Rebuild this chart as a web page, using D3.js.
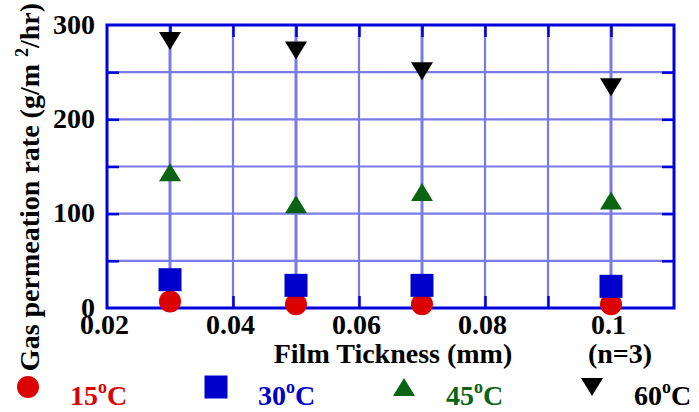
<!DOCTYPE html>
<html>
<head>
<meta charset="utf-8">
<script src="https://cdn.jsdelivr.net/npm/d3@7"></script>
<style>
  body { margin: 0; background: #fff; }
  svg text { font-family: "Liberation Serif", "Times New Roman", serif; font-weight: bold; }
</style>
</head>
<body>
<svg id="chart" width="699" height="412"></svg>
<script>
// film thickness (mm)
var thickness = [0.03, 0.05, 0.07, 0.10];

// gas permeation rate (g/m2/hr), one array per temperature
var rate15 = [7, 4, 4, 4];
var rate30 = [30, 24, 24, 23];
var rate45 = [144, 110, 123, 114];
var rate60 = [283, 273, 251, 234];

var seriesNames = ["15", "30", "45", "60"];
var seriesColors = ["#dd0000", "#0000cc", "#0a6414", "#000000"];
var seriesShapes = ["circle", "square", "up", "down"];

var xTickValues = [0.02, 0.04, 0.06, 0.08, 0.10];
var xTickLabels = ["0.02", "0.04", "0.06", "0.08", "0.1"];
var xMinorValues = [0.03, 0.04, 0.05, 0.06, 0.07, 0.08, 0.09, 0.10];
var yTickValues = [0, 100, 200, 300];
var yMinorValues = [50, 100, 150, 200, 250];

var allRates = [rate15, rate30, rate45, rate60];

// note: "top" is taken by window.top, so prefix these
var plotLeft = 107, plotTop = 25, plotRight = 674, plotBottom = 308;
var frameColor = "#0000dd";
var gridColor = "#7a7ae8";

var svg = d3.select("#chart");

var x = d3.scaleLinear().domain([0.02, 0.11]).range([plotLeft, plotRight]);
var y = d3.scaleLinear().domain([0, 300]).range([plotBottom, plotTop]);

// grid
svg.append("g").selectAll("line")
    .data(xMinorValues)
    .enter().append("line")
        .attr("x1", function(d) { return x(d); })
        .attr("x2", function(d) { return x(d); })
        .attr("y1", plotTop)
        .attr("y2", plotBottom)
        .attr("stroke", gridColor)
        .attr("stroke-width", function(d) { return thickness.indexOf(d) >= 0 ? 3 : 2.2; });

svg.append("g").selectAll("line")
    .data(yMinorValues)
    .enter().append("line")
        .attr("x1", plotLeft)
        .attr("x2", plotRight)
        .attr("y1", function(d) { return y(d); })
        .attr("y2", function(d) { return y(d); })
        .attr("stroke", gridColor)
        .attr("stroke-width", 2.2);

// inward ticks on all four sides
function tickAxis(axis, tx, ty) {
    var g = svg.append("g")
        .attr("transform", "translate(" + tx + "," + ty + ")")
        .call(axis);
    g.select(".domain").remove();
    g.selectAll("text").remove();
    g.selectAll("line").attr("stroke", frameColor).attr("stroke-width", 2.5);
}
tickAxis(d3.axisTop(x).tickValues(xMinorValues).tickSize(-12).tickSizeOuter(0), 0, plotTop);
tickAxis(d3.axisBottom(x).tickValues(xMinorValues).tickSize(-12).tickSizeOuter(0), 0, plotBottom);
tickAxis(d3.axisLeft(y).tickValues(yMinorValues).tickSize(-12).tickSizeOuter(0), plotLeft, 0);
tickAxis(d3.axisRight(y).tickValues(yMinorValues).tickSize(-12).tickSizeOuter(0), plotRight, 0);

// frame
svg.append("rect")
    .attr("x", plotLeft)
    .attr("y", plotTop)
    .attr("width", plotRight - plotLeft)
    .attr("height", plotBottom - plotTop)
    .attr("fill", "none")
    .attr("stroke", frameColor)
    .attr("stroke-width", 3);

// tick labels
var xLab = svg.append("g")
    .attr("transform", "translate(0," + plotBottom + ")")
    .call(d3.axisBottom(x).tickValues(xTickValues)
        .tickFormat(function(d, i) { return xTickLabels[i]; })
        .tickSize(0));
xLab.select(".domain").remove();
xLab.selectAll("text")
    .attr("x", -3)
    .attr("y", 26)
    .attr("dy", null)
    .attr("fill", "#000")
    .style("font-size", "28px")
    .style("font-family", "Liberation Serif")
    .style("font-weight", "bold");

var yLab = svg.append("g")
    .attr("transform", "translate(" + plotLeft + ",0)")
    .call(d3.axisLeft(y).tickValues(yTickValues).tickSize(0));
yLab.select(".domain").remove();
yLab.selectAll("text")
    .attr("x", -12)
    .attr("dy", null)
    .attr("y", 8)
    .attr("fill", "#000")
    .style("font-size", "28px")
    .style("font-family", "Liberation Serif")
    .style("font-weight", "bold");

// axis titles
svg.append("text")
    .attr("x", 393)
    .attr("y", 363)
    .attr("text-anchor", "middle")
    .style("font-size", "28px")
    .text("Film Tickness (mm)");

svg.append("text")
    .attr("x", 620)
    .attr("y", 363)
    .attr("text-anchor", "middle")
    .style("font-size", "28px")
    .text("(n=3)");

var yTitle = svg.append("text")
    .attr("transform", "translate(39,187) rotate(-90)")
    .attr("text-anchor", "middle")
    .style("font-size", "28px");
yTitle.append("tspan").text("Gas permeation rate (g/m ");
yTitle.append("tspan").attr("dy", -11).style("font-size", "18px").text("2");
yTitle.append("tspan").attr("dy", 11).text("/hr)");

// markers
function markerPath(shape) {
    if (shape == "circle") return d3.symbol().type(d3.symbolCircle).size(Math.PI * 11 * 11)();
    if (shape == "square") return d3.symbol().type(d3.symbolSquare).size(23 * 23)();
    if (shape == "up") return "M0,-9L11,9L-11,9Z";
    return "M-11,-9L11,-9L0,9Z";
}

for (var s = 0; s < allRates.length; s++) {
    svg.append("g").selectAll("path")
        .data(allRates[s])
        .enter().append("path")
            .attr("d", markerPath(seriesShapes[s]))
            .attr("fill", seriesColors[s])
            .attr("transform", function(d, i) {
                return "translate(" + x(thickness[i]) + "," + y(d) + ")";
            });
}

// legend
var legend = svg.append("g").selectAll("g")
    .data(seriesNames)
    .enter().append("g")
        .attr("transform", function(d, i) { return "translate(" + (28 + i * 188) + ",387)"; });

legend.append("path")
    .attr("d", function(d, i) { return markerPath(seriesShapes[i]); })
    .attr("fill", function(d, i) { return seriesColors[i]; });

var lt = legend.append("text")
    .attr("x", 42)
    .attr("y", 18)
    .attr("fill", function(d, i) { return seriesColors[i]; })
    .style("font-size", "28px");
lt.append("tspan").text(function(d) { return d; });
lt.append("tspan").attr("dy", -12).style("font-size", "18px").text("o");
lt.append("tspan").attr("dy", 12).text("C");
</script>
</body>
</html>
